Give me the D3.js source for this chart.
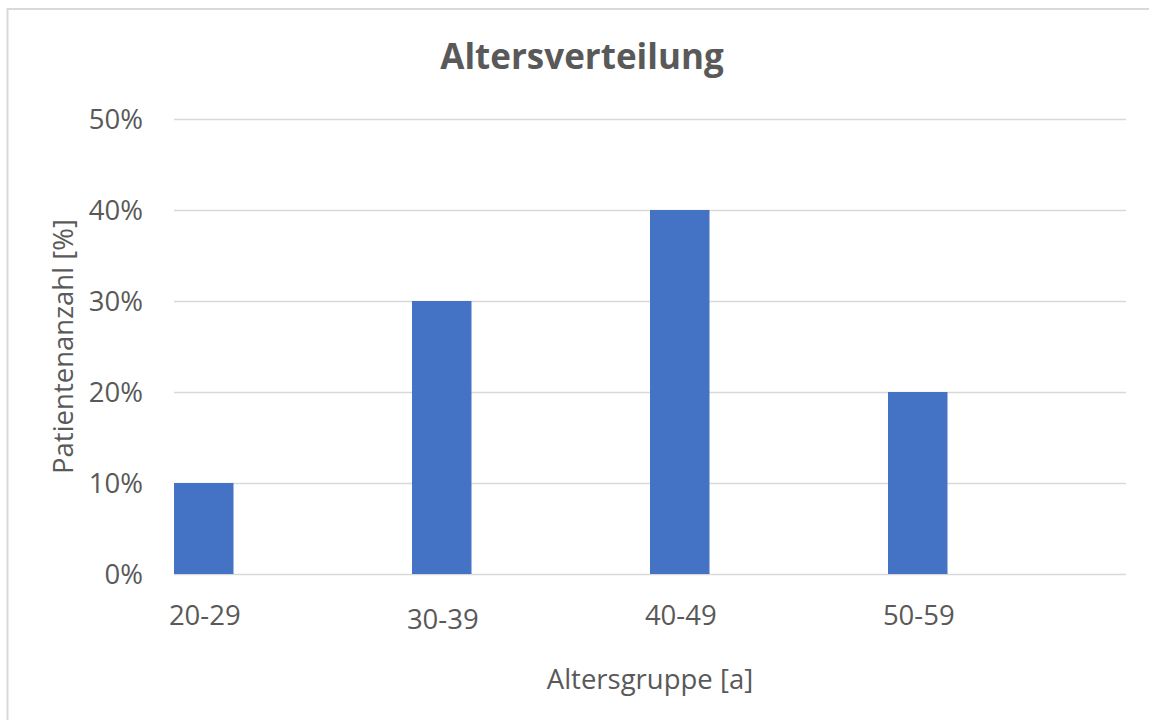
<!DOCTYPE html>
<html>
<head>
<meta charset="utf-8">
<script src="https://cdn.jsdelivr.net/npm/d3@7/dist/d3.min.js"></script>
<style>
  html, body { margin: 0; padding: 0; background: #ffffff; }
  svg { display: block; font-family: "Open Sans", "Noto Sans", sans-serif; }
</style>
</head>
<body>
<svg id="chart" width="1149" height="720"></svg>
<script>
// Age distribution of patients (share per age group)
const categories = ["20-29", "30-39", "40-49", "50-59"];
const shares = [0.10, 0.30, 0.40, 0.20];
const yTicks = [0, 0.1, 0.2, 0.3, 0.4, 0.5];

const chartTitle = "Altersverteilung";
const xTitle = "Altersgruppe [a]";
const yTitle = "Patientenanzahl [%]";

const W = 1149, H = 720;
const plot = { left: 174, right: 1126, top: 119, bottom: 574 };
const textColor = "#595959";
const gridColor = "#D9D9D9";
const barColor = "#4472C4";

const svg = d3.select("#chart");

// chart area frame
svg.append("rect")
  .attr("x", 7.5).attr("y", 9)
  .attr("width", W + 10).attr("height", H + 10)
  .attr("fill", "#ffffff")
  .attr("stroke", gridColor)
  .attr("stroke-width", 2);

const x = d3.scaleBand()
  .domain(categories)
  .range([plot.left, plot.right]);

const y = d3.scaleLinear()
  .domain([0, 0.5])
  .range([plot.bottom, plot.top]);

const barWidth = x.bandwidth() * 0.25;

// horizontal gridlines
svg.append("g")
  .selectAll("line")
  .data(yTicks)
  .join("line")
  .attr("x1", plot.left).attr("x2", plot.right)
  .attr("y1", d => Math.round(y(d)) + 0.5)
  .attr("y2", d => Math.round(y(d)) + 0.5)
  .attr("stroke", gridColor)
  .attr("stroke-width", 1.6);

// y axis tick labels
svg.append("g")
  .selectAll("text")
  .data(yTicks)
  .join("text")
  .attr("x", 143)
  .attr("y", d => y(d))
  .attr("dy", "0.36em")
  .attr("text-anchor", "end")
  .attr("fill", textColor)
  .attr("font-size", 27.5)
  .text(d3.format(".0%"));

// bars
svg.append("g")
  .selectAll("rect")
  .data(categories.map((c, i) => ({ c, v: shares[i] })))
  .join("rect")
  .attr("x", d => x(d.c))
  .attr("y", d => y(d.v))
  .attr("width", barWidth)
  .attr("height", d => y(0) - y(d.v))
  .attr("fill", barColor);

// category labels, centred under each bar
svg.append("g")
  .selectAll("text")
  .data(categories)
  .join("text")
  .attr("x", d => x(d) + barWidth / 2 + 1)
  .attr("y", (d, i) => 625 + (i === 1 ? 4 : 0))
  .attr("text-anchor", "middle")
  .attr("fill", textColor)
  .attr("font-size", 27.5)
  .text(d => d);

// chart title
svg.append("text")
  .attr("x", 582)
  .attr("y", 69)
  .attr("text-anchor", "middle")
  .attr("fill", textColor)
  .attr("font-size", 35)
  .attr("font-weight", "bold")
  .text(chartTitle);

// x axis title
svg.append("text")
  .attr("x", (plot.left + plot.right) / 2)
  .attr("y", 689)
  .attr("text-anchor", "middle")
  .attr("fill", textColor)
  .attr("font-size", 27.5)
  .text(xTitle);

// y axis title
svg.append("text")
  .attr("transform", `translate(73,${(plot.top + plot.bottom) / 2}) rotate(-90)`)
  .attr("text-anchor", "middle")
  .attr("fill", textColor)
  .attr("font-size", 27.5)
  .text(yTitle);
</script>
</body>
</html>
